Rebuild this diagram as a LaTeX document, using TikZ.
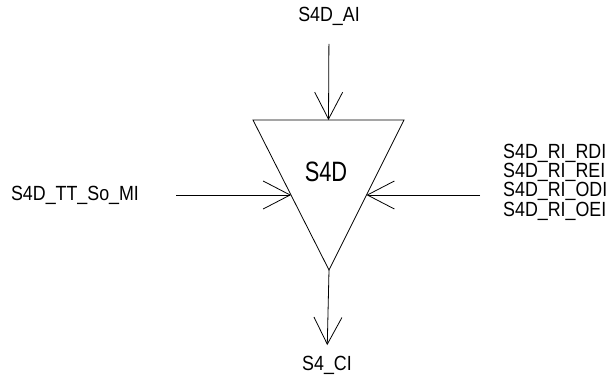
\documentclass[tikz,border=0pt]{standalone}
\usepackage{fontspec}
\setmainfont{Liberation Sans}
\newfontfamily\etroit[FakeStretch=0.87]{Liberation Sans}
\newfontfamily\etroitbloc[FakeStretch=0.78]{Liberation Sans}
\usetikzlibrary{arrows.meta,calc}

\begin{document}
\begin{tikzpicture}[x=1pt,y=-1pt,
  signal/.style={inner sep=0pt,font=\etroit\fontsize{20.5}{18.3}\selectfont},
  fleche/.style={-{Straight Barb[length=27pt,width=28pt]},line width=0.8pt}]
  \useasboundingbox (0,0) rectangle (609,385);

  % bloc triangulaire
  \coordinate (TL) at (253,120);
  \coordinate (TR) at (404,120);
  \coordinate (AP) at (329,270);
  \draw[line width=0.8pt] (TL) -- (TR) -- (AP) -- cycle;
  \node[inner sep=0pt,font=\etroitbloc\fontsize{28}{30}\selectfont] (S4D) at (326,172) {S4D};
  \coordinate (inHaut) at ($(TL)!0.5!(TR)$);
  \coordinate (inGauche) at ($(TL)!0.5!(AP)$);
  \coordinate (inDroite) at ($(TR)!0.5!(AP)$);

  % signaux
  \node[signal] (AI) at (329,16.5) {S4D\_AI};
  \node[signal] (MI) at (75,195) {S4D\_TT\_So\_MI};
  \node[signal,align=left,anchor=west] (RI) at (503,182) {S4D\_RI\_RDI\\S4D\_RI\_REI\\S4D\_RI\_ODI\\S4D\_RI\_OEI};
  \node[signal] (CI) at (327,365.5) {S4\_CI};

  \draw[fleche,shorten <=18pt] (AI.south) -- (inHaut);
  \draw[fleche,shorten <=37pt] (MI.east) -- (inGauche);
  \draw[fleche,shorten <=23pt] (RI.west |- inDroite) -- (inDroite);
  \draw[fleche,shorten >=11pt] (AP) -- (CI.north);
\end{tikzpicture}
\end{document}
